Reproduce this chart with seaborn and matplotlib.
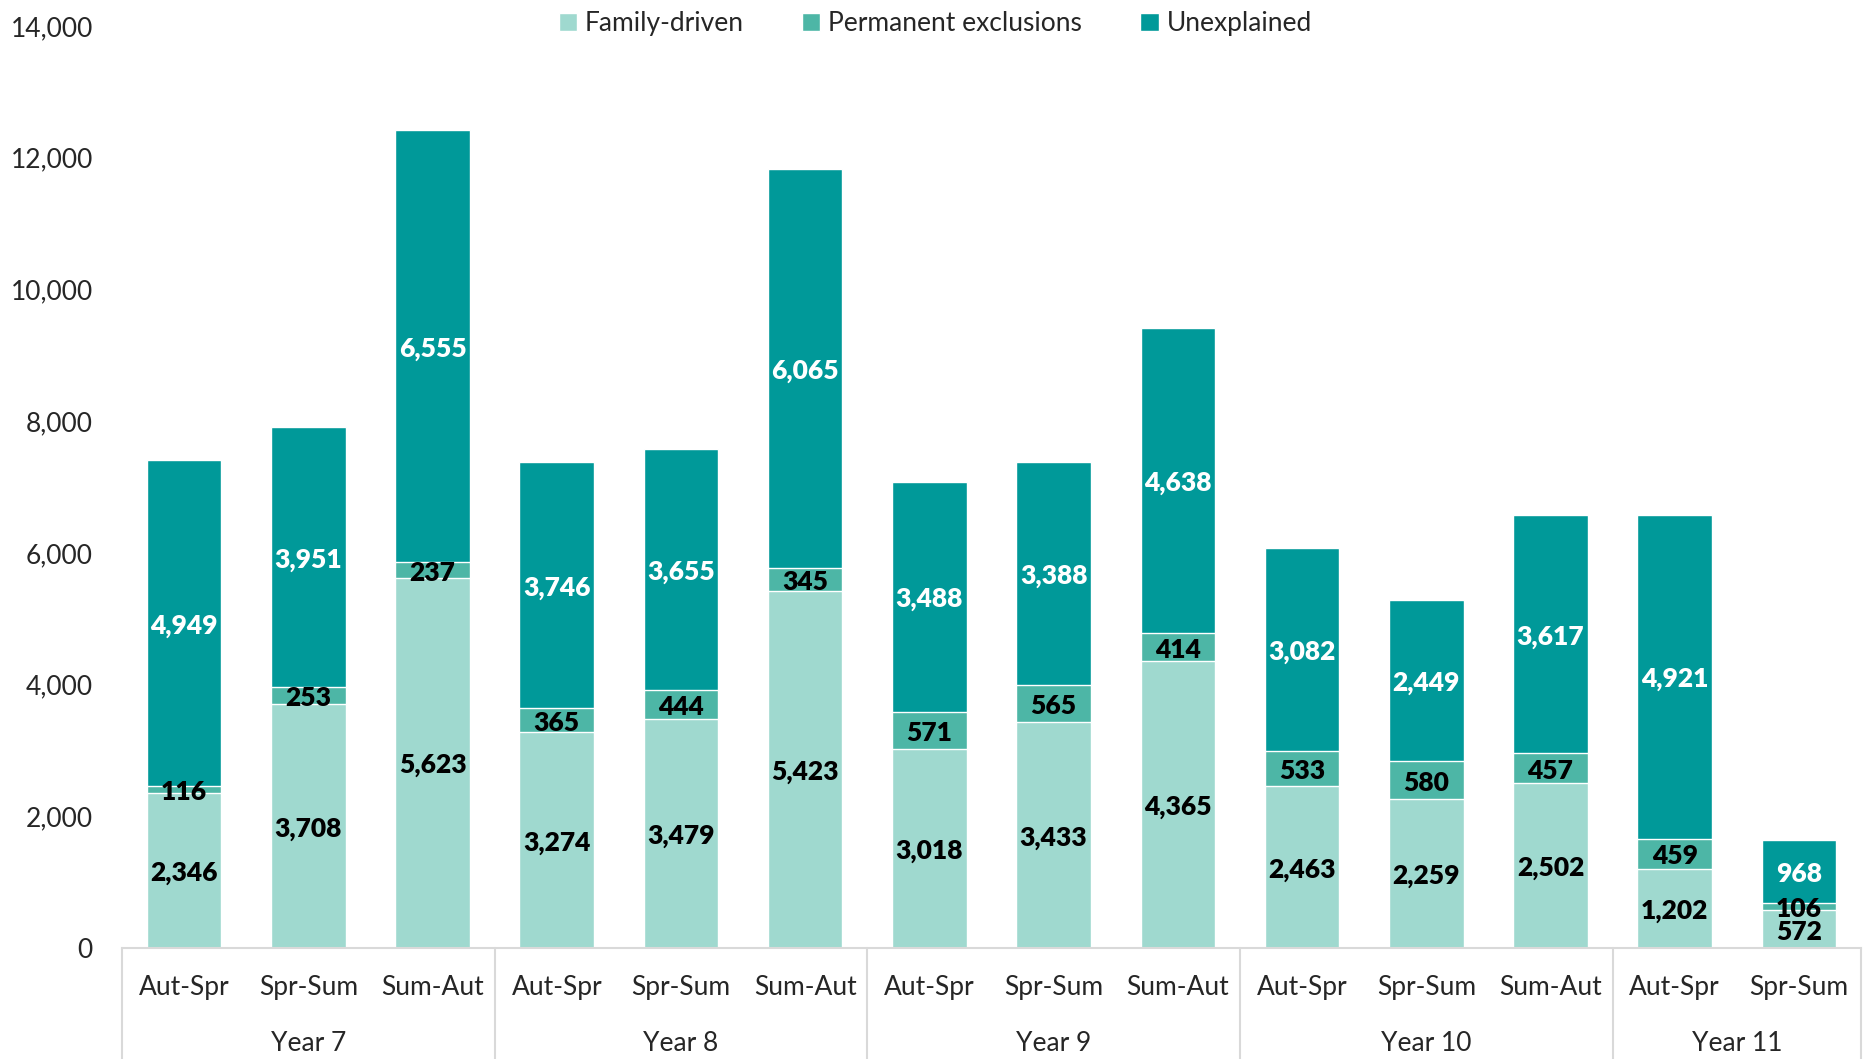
import numpy as np
import pandas as pd
import matplotlib
matplotlib.use('Agg')
import matplotlib.pyplot as plt
import seaborn as sns
from matplotlib.patches import Patch
from matplotlib.ticker import FuncFormatter

terms = ['Aut-Spr', 'Spr-Sum', 'Sum-Aut', 'Aut-Spr', 'Spr-Sum', 'Sum-Aut', 'Aut-Spr', 'Spr-Sum',
         'Sum-Aut', 'Aut-Spr', 'Spr-Sum', 'Sum-Aut', 'Aut-Spr', 'Spr-Sum']
years = ['Year 7', 'Year 8', 'Year 9', 'Year 10', 'Year 11']
year_sizes = [3, 3, 3, 3, 2]
family = [2346, 3708, 5623, 3274, 3479, 5423, 3018, 3433, 4365, 2463, 2259, 2502, 1202, 572]
permanent = [116, 253, 237, 365, 444, 345, 571, 565, 414, 533, 580, 457, 459, 106]
unexplained = [4949, 3951, 6555, 3746, 3655, 6065, 3488, 3388, 4638, 3082, 2449, 3617, 4921, 968]

c_family = '#9fd9cf'
c_perm = '#4db6a6'
c_unexp = '#009999'

sns.set_style('white')
plt.rcParams['font.family'] = ['Lato', 'DejaVu Sans']
FS = 19

df = pd.DataFrame({'pos': range(len(terms)), 'family': family,
                   'permanent': permanent, 'unexplained': unexplained})
df['fp'] = df['family'] + df['permanent']
df['total'] = df['fp'] + df['unexplained']

fig = plt.figure(figsize=(18.63, 10.59), dpi=100)
ax = fig.add_axes([122 / 1863, 111 / 1059, 1739 / 1863, 922 / 1059])

# stacked bars by overlaying cumulative totals
sns.barplot(data=df, x='pos', y='total', color=c_unexp, saturation=1, width=0.6, ax=ax)
sns.barplot(data=df, x='pos', y='fp', color=c_perm, saturation=1, width=0.6, ax=ax)
sns.barplot(data=df, x='pos', y='family', color=c_family, saturation=1, width=0.6, ax=ax)

# value labels, centred in each segment
for i, row in df.iterrows():
    ax.text(i, row['family'] / 2 - 40, f"{row['family']:,}", ha='center', va='center',
            fontsize=FS, fontweight='heavy', color='black')
    ax.text(i, row['family'] + row['permanent'] / 2 - 40, f"{row['permanent']:,}", ha='center',
            va='center', fontsize=FS, fontweight='heavy', color='black')
    ax.text(i, row['fp'] + row['unexplained'] / 2 - 40, f"{row['unexplained']:,}", ha='center',
            va='center', fontsize=FS, fontweight='heavy', color='white')

ax.set_xlim(-0.5, len(terms) - 0.5)
ax.set_ylim(0, 14000)
ax.set_yticks(np.arange(0, 14001, 2000))
ax.yaxis.set_major_formatter(FuncFormatter(lambda v, p: f'{int(v):,}'))
ax.tick_params(axis='y', length=0, pad=21, labelsize=FS)
ax.set_xticks(range(len(terms)))
ax.set_xticklabels(terms, fontsize=FS)
ax.tick_params(axis='x', length=0, pad=19.5)
ax.set_xlabel('')
ax.set_ylabel('')

for s in ['top', 'right', 'left']:
    ax.spines[s].set_visible(False)
ax.spines['bottom'].set_color('#d9d9d9')
ax.spines['bottom'].set_linewidth(1.5)

# year group labels and separators
trans = ax.get_xaxis_transform()
start = 0
bounds = [-0.5]
for yr, n in zip(years, year_sizes):
    ax.text(start + (n - 1) / 2, -0.104, yr, transform=trans, ha='center', va='center', fontsize=FS)
    start += n
    bounds.append(start - 0.5)
for b in bounds:
    ax.plot([b, b], [0, -0.13], transform=trans, color='#d9d9d9', lw=1.5, clip_on=False)

handles = [Patch(facecolor=c_family, label='Family-driven'),
           Patch(facecolor=c_perm, label='Permanent exclusions'),
           Patch(facecolor=c_unexp, label='Unexplained')]
fig.legend(handles=handles, loc='upper center', bbox_to_anchor=(0.502, 1.012), ncol=3,
           frameon=False, fontsize=FS, handlelength=0.7, handleheight=0.7,
           handletextpad=0.3, columnspacing=2.2)

plt.savefig('out.png', dpi=100)
plt.close()
